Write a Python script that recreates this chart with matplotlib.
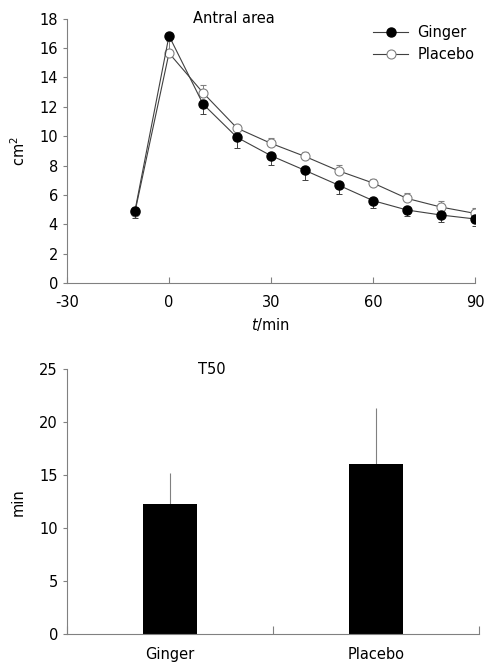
import matplotlib
matplotlib.use("Agg")
import matplotlib.pyplot as plt
import numpy as np

# antral area over time
t = [-10, 0, 10, 20, 30, 40, 50, 60, 70, 80, 90]
ginger = [4.93, 16.84, 12.19, 9.92, 8.67, 7.67, 6.65, 5.61, 4.97, 4.63, 4.36]
ginger_err = [0.5, 0.3, 0.66, 0.75, 0.65, 0.63, 0.6, 0.48, 0.43, 0.5, 0.5]
placebo = [4.85, 15.66, 12.96, 10.55, 9.51, 8.62, 7.63, 6.81, 5.76, 5.17, 4.74]
placebo_err = [0.3, 0.8, 0.52, 0.23, 0.34, 0.3, 0.38, 0.3, 0.4, 0.4, 0.34]

# T50
groups = ["Ginger", "Placebo"]
t50 = [12.25, 16.06]
t50_err = [2.93, 5.24]

plt.rcParams['font.family'] = ['DejaVu Sans']
plt.rcParams['font.size'] = 10.5
plt.rcParams['axes.unicode_minus'] = False

grey = "#808080"
line_c = "#404040"

fig = plt.figure(figsize=(4.94, 6.69), dpi=100)

ax1 = fig.add_axes([0.1356, 0.577, 0.826, 0.395])
zeros = np.zeros(len(t))
ax1.errorbar(t, ginger, yerr=[ginger_err, zeros], fmt='-o', color=line_c, lw=0.8,
             mfc='black', mec='black', ms=6.5, ecolor=line_c, elinewidth=0.7,
             capsize=2.5, capthick=0.7, label="Ginger", zorder=3)
ax1.errorbar(t, placebo, yerr=[zeros, placebo_err], fmt='-o', color=line_c, lw=0.8,
             mfc='white', mec=grey, ms=6.5, mew=0.8, ecolor=grey, elinewidth=0.7,
             capsize=2.5, capthick=0.7, label="Placebo", zorder=2)
ax1.set_xlim(-30, 90)
ax1.set_ylim(0, 18)
ax1.set_xticks([-30, 0, 30, 60, 90])
ax1.set_yticks(range(0, 19, 2))
ax1.tick_params(axis='x', direction='in', length=4, color=grey, pad=9)
ax1.tick_params(axis='y', direction='out', length=3, color=grey)
ax1.set_xlabel(r"$t$/min", labelpad=4)
ax1.set_ylabel("cm$^2$", labelpad=8)
ax1.text(0.41, 1.0, "Antral area", transform=ax1.transAxes, ha='center', va='center')
for s in ['top', 'right']:
    ax1.spines[s].set_visible(False)
for s in ['left', 'bottom']:
    ax1.spines[s].set_color(grey)
    ax1.spines[s].set_linewidth(0.8)
h, l = ax1.get_legend_handles_labels()
h = [hh[0] for hh in h]
ax1.legend(h, l, loc='upper right', bbox_to_anchor=(1.03, 1.025), frameon=False,
           handlelength=2.4, handletextpad=0.6, labelspacing=0.45)

ax2 = fig.add_axes([0.1356, 0.0523, 0.834, 0.3957])
x = np.arange(len(groups)) + 0.5
ax2.bar(x, t50, width=0.265, color='black', zorder=2)
ax2.errorbar(x, t50, yerr=[np.zeros(len(t50)), t50_err], fmt='none', ecolor=grey,
             elinewidth=0.8, capsize=0, zorder=1)
ax2.set_xlim(0, 2)
ax2.set_ylim(0, 25)
ax2.set_xticks([0, 1, 2])
ax2.set_xticklabels([])
ax2.set_xticks(x, minor=True)
ax2.set_xticklabels(groups, minor=True)
ax2.tick_params(axis='x', which='major', direction='in', length=6, color=grey)
ax2.tick_params(axis='x', which='minor', length=0, pad=9)
ax2.tick_params(axis='y', direction='out', length=3, color=grey)
ax2.set_yticks(range(0, 26, 5))
ax2.set_ylabel("min", labelpad=10)
ax2.text(0.352, 1.0, "T50", transform=ax2.transAxes, ha='center', va='center')
for s in ['top', 'right']:
    ax2.spines[s].set_visible(False)
for s in ['left', 'bottom']:
    ax2.spines[s].set_color(grey)
    ax2.spines[s].set_linewidth(0.8)

fig.savefig("out.png", dpi=100)
